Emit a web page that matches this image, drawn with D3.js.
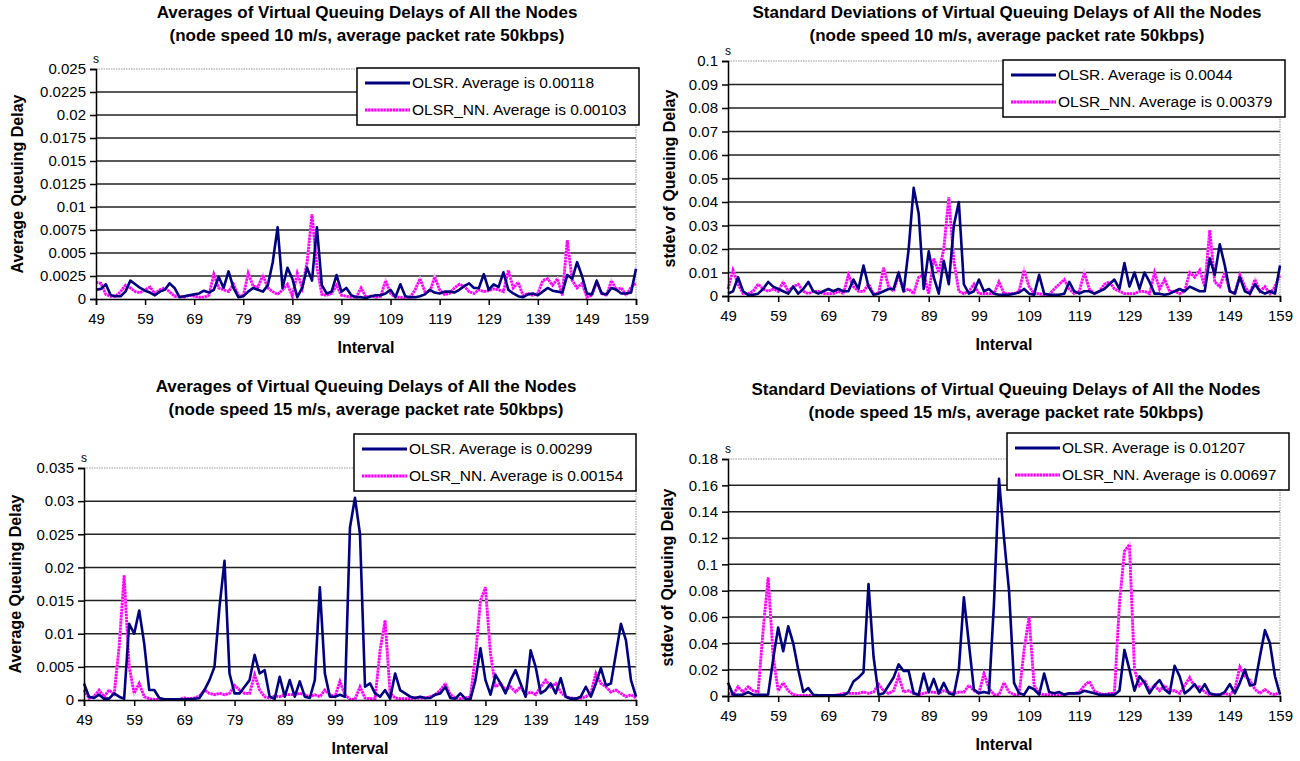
<!DOCTYPE html>
<html>
<head>
<meta charset="utf-8">
<script src="https://cdn.jsdelivr.net/npm/d3@7/dist/d3.min.js"></script>
<style>
  body { margin: 0; background: #fff; }
  svg text { font-family: Arial, "Liberation Sans", sans-serif; fill: #000; }
</style>
</head>
<body>
<svg id="chart" width="1300" height="761"></svg>
<script>
// x categories (intervals) and tick labels
var firstInterval = 49, lastInterval = 159;
var xTickLabels = [49, 59, 69, 79, 89, 99, 109, 119, 129, 139, 149, 159];

// y tick labels of each panel
var avg10Ticks = [0, 0.0025, 0.005, 0.0075, 0.01, 0.0125, 0.015, 0.0175, 0.02, 0.0225, 0.025];
var sd10Ticks = [0, 0.01, 0.02, 0.03, 0.04, 0.05, 0.06, 0.07, 0.08, 0.09, 0.1];
var avg15Ticks = [0, 0.005, 0.01, 0.015, 0.02, 0.025, 0.03, 0.035];
var sd15Ticks = [0, 0.02, 0.04, 0.06, 0.08, 0.1, 0.12, 0.14, 0.16, 0.18];

// legend labels
var avg10Legend = ["OLSR. Average is 0.00118", "OLSR_NN. Average is 0.00103"];
var sd10Legend = ["OLSR. Average is 0.0044", "OLSR_NN. Average is 0.00379"];
var avg15Legend = ["OLSR. Average is 0.00299", "OLSR_NN. Average is 0.00154"];
var sd15Legend = ["OLSR. Average is 0.01207", "OLSR_NN. Average is 0.00697"];

// series, one value per interval 49..159
var avg10Olsr = [
  0.0010, 0.0011, 0.0016, 0.0004, 0.0003, 0.0003, 0.0008, 0.0020, 0.0016, 0.0012,
  0.0009, 0.0007, 0.0004, 0.0008, 0.0010, 0.0017, 0.0012, 0.0002, 0.0003, 0.0004,
  0.0005, 0.0006, 0.0009, 0.0007, 0.0010, 0.0024, 0.0012, 0.0030, 0.0012, 0.0002,
  0.0003, 0.0008, 0.0012, 0.0010, 0.0008, 0.0015, 0.0040, 0.0078, 0.0012, 0.0034,
  0.0022, 0.0002, 0.0012, 0.0034, 0.0020, 0.0078, 0.0015, 0.0006, 0.0008, 0.0026,
  0.0008, 0.0012, 0.0004, 0.0002, 0.0002, 0.0001, 0.0003, 0.0004, 0.0004, 0.0006,
  0.0010, 0.0002, 0.0016, 0.0003, 0.0002, 0.0002, 0.0003, 0.0005, 0.0010, 0.0007,
  0.0006, 0.0008, 0.0008, 0.0007, 0.0010, 0.0014, 0.0017, 0.0012, 0.0012, 0.0027,
  0.0010, 0.0016, 0.0013, 0.0029, 0.0010, 0.0006, 0.0003, 0.0002, 0.0005, 0.0006,
  0.0004, 0.0008, 0.0012, 0.0009, 0.0008, 0.0007, 0.0026, 0.0022, 0.0040, 0.0025,
  0.0006, 0.0005, 0.0020, 0.0006, 0.0005, 0.0012, 0.0010, 0.0006, 0.0006, 0.0007,
  0.0033
];
var avg10OlsrNN = [
  0.0018, 0.0017, 0.0005, 0.0003, 0.0003, 0.0008, 0.0015, 0.0012, 0.0008, 0.0007,
  0.0010, 0.0013, 0.0006, 0.0010, 0.0012, 0.0008, 0.0003, 0.0003, 0.0002, 0.0004,
  0.0003, 0.0002, 0.0002, 0.0004, 0.0027, 0.0012, 0.0010, 0.0008, 0.0016, 0.0004,
  0.0003, 0.0028, 0.0014, 0.0013, 0.0026, 0.0012, 0.0008, 0.0005, 0.0010, 0.0016,
  0.0003, 0.0028, 0.0012, 0.0040, 0.0092, 0.0035, 0.0005, 0.0004, 0.0006, 0.0015,
  0.0004, 0.0003, 0.0002, 0.0002, 0.0012, 0.0002, 0.0003, 0.0002, 0.0003, 0.0020,
  0.0006, 0.0002, 0.0002, 0.0001, 0.0002, 0.0010, 0.0022, 0.0008, 0.0008, 0.0024,
  0.0010, 0.0005, 0.0006, 0.0012, 0.0016, 0.0014, 0.0008, 0.0006, 0.0010, 0.0008,
  0.0009, 0.0011, 0.0010, 0.0008, 0.0031, 0.0012, 0.0018, 0.0004, 0.0006, 0.0004,
  0.0006, 0.0020, 0.0022, 0.0015, 0.0022, 0.0004, 0.0064, 0.0020, 0.0012, 0.0017,
  0.0002, 0.0004, 0.0018, 0.0006, 0.0004, 0.0020, 0.0010, 0.0012, 0.0004, 0.0013,
  0.0017
];
var sd10Olsr = [
  0.001, 0.002, 0.008, 0.002, 0.0005, 0.0005, 0.001, 0.003, 0.006, 0.004,
  0.003, 0.002, 0.001, 0.004, 0.001, 0.003, 0.006, 0.002, 0.001, 0.002,
  0.003, 0.002, 0.003, 0.002, 0.002, 0.007, 0.003, 0.013, 0.004, 0.0005,
  0.001, 0.002, 0.003, 0.003, 0.010, 0.002, 0.020, 0.046, 0.035, 0.003,
  0.019, 0.008, 0.001, 0.015, 0.005, 0.030, 0.040, 0.005, 0.001, 0.002,
  0.007, 0.002, 0.003, 0.001, 0.0005, 0.0005, 0.0005, 0.001, 0.0015, 0.003,
  0.001, 0.0005, 0.009, 0.001, 0.0005, 0.0005, 0.0005, 0.001, 0.006, 0.002,
  0.001, 0.002, 0.002, 0.001, 0.002, 0.003, 0.005, 0.007, 0.003, 0.014,
  0.004, 0.010, 0.003, 0.010, 0.006, 0.001, 0.001, 0.0005, 0.001, 0.002,
  0.003, 0.002, 0.004, 0.003, 0.002, 0.002, 0.016, 0.009, 0.022, 0.013,
  0.002, 0.001, 0.008, 0.002, 0.001, 0.005, 0.002, 0.001, 0.002, 0.001,
  0.013
];
var sd10OlsrNN = [
  0.003, 0.011, 0.005, 0.001, 0.001, 0.002, 0.005, 0.003, 0.002, 0.003,
  0.002, 0.006, 0.002, 0.004, 0.005, 0.002, 0.001, 0.002, 0.002, 0.001,
  0.001, 0.001, 0.002, 0.001, 0.009, 0.004, 0.002, 0.002, 0.005, 0.001,
  0.001, 0.012, 0.004, 0.002, 0.009, 0.002, 0.003, 0.001, 0.008, 0.009,
  0.001, 0.016, 0.010, 0.020, 0.042, 0.015, 0.002, 0.001, 0.002, 0.005,
  0.001, 0.001, 0.001, 0.001, 0.006, 0.001, 0.001, 0.001, 0.002, 0.011,
  0.004, 0.001, 0.001, 0.0005, 0.0005, 0.003, 0.005, 0.007, 0.003, 0.001,
  0.002, 0.010, 0.003, 0.001, 0.002, 0.005, 0.006, 0.003, 0.002, 0.001,
  0.001, 0.001, 0.002, 0.002, 0.001, 0.010, 0.003, 0.007, 0.002, 0.002,
  0.001, 0.002, 0.010, 0.008, 0.011, 0.004, 0.028, 0.006, 0.004, 0.010,
  0.002, 0.001, 0.009, 0.004, 0.001, 0.007, 0.002, 0.004, 0.001, 0.004,
  0.009
];
var avg15Olsr = [
  0.0025, 0.0005, 0.0003, 0.0008, 0.0002, 0.0002, 0.0010, 0.0005, 0.0002, 0.0115,
  0.0100, 0.0135, 0.0085, 0.0015, 0.0015, 0.0003, 0.0001, 0.0001, 0.0001, 0.0001,
  0.0001, 0.0001, 0.0002, 0.0003, 0.0015, 0.0030, 0.0050, 0.0140, 0.0210, 0.0040,
  0.0010, 0.0010, 0.0020, 0.0030, 0.0068, 0.0040, 0.0045, 0.0005, 0.0002, 0.0035,
  0.0005, 0.0030, 0.0005, 0.0028, 0.0005, 0.0003, 0.0030, 0.0170, 0.0040, 0.0005,
  0.0005, 0.0008, 0.0005, 0.0260, 0.0305, 0.0250, 0.0020, 0.0025, 0.0010, 0.0005,
  0.0015, 0.0002, 0.0040, 0.0015, 0.0010, 0.0005, 0.0003, 0.0005, 0.0003, 0.0003,
  0.0008, 0.0010, 0.0020, 0.0003, 0.0002, 0.0010, 0.0002, 0.0001, 0.0030, 0.0078,
  0.0030, 0.0008, 0.0038, 0.0025, 0.0010, 0.0030, 0.0045, 0.0025, 0.0005, 0.0075,
  0.0050, 0.0010, 0.0015, 0.0025, 0.0010, 0.0033, 0.0005, 0.0002, 0.0002, 0.0005,
  0.0020, 0.0005, 0.0025, 0.0048, 0.0022, 0.0025, 0.0070, 0.0115, 0.0090, 0.0030,
  0.0005
];
var avg15OlsrNN = [
  0.0015, 0.0003, 0.0005, 0.0015, 0.0005, 0.0015, 0.0008, 0.0080, 0.0188, 0.0050,
  0.0010, 0.0025, 0.0005, 0.0002, 0.0001, 0.0001, 0.0001, 0.0001, 0.0001, 0.0001,
  0.0003, 0.0002, 0.0003, 0.0006, 0.0015, 0.0010, 0.0008, 0.0010, 0.0008, 0.0010,
  0.0022, 0.0015, 0.0010, 0.0010, 0.0038, 0.0015, 0.0005, 0.0003, 0.0006, 0.0005,
  0.0008, 0.0008, 0.0008, 0.0010, 0.0008, 0.0005, 0.0008, 0.0005, 0.0015, 0.0008,
  0.0005, 0.0028, 0.0008, 0.0001, 0.0001, 0.0020, 0.0003, 0.0002, 0.0002, 0.0075,
  0.0120, 0.0010, 0.0003, 0.0002, 0.0002, 0.0002, 0.0003, 0.0003, 0.0003, 0.0005,
  0.0008, 0.0015, 0.0025, 0.0008, 0.0003, 0.0002, 0.0003, 0.0005, 0.0065, 0.0150,
  0.0170, 0.0070, 0.0020, 0.0025, 0.0015, 0.0020, 0.0012, 0.0020, 0.0008, 0.0012,
  0.0008, 0.0020, 0.0030, 0.0020, 0.0025, 0.0012, 0.0005, 0.0003, 0.0002, 0.0003,
  0.0005, 0.0010, 0.0040, 0.0025, 0.0020, 0.0012, 0.0015, 0.0010, 0.0005, 0.0008,
  0.0003
];
var sd15Olsr = [
  0.010, 0.001, 0.001, 0.001, 0.003, 0.001, 0.001, 0.001, 0.001, 0.028,
  0.052, 0.034, 0.053, 0.040, 0.020, 0.003, 0.006, 0.001, 0.0005, 0.0005,
  0.0005, 0.0005, 0.0005, 0.0005, 0.003, 0.011, 0.014, 0.018, 0.085, 0.030,
  0.001, 0.002, 0.008, 0.014, 0.024, 0.019, 0.019, 0.002, 0.001, 0.017,
  0.003, 0.013, 0.002, 0.010, 0.002, 0.001, 0.020, 0.075, 0.040, 0.005,
  0.002, 0.003, 0.002, 0.070, 0.165, 0.120, 0.080, 0.010, 0.002, 0.001,
  0.007, 0.005, 0.001, 0.017, 0.003, 0.002, 0.003, 0.001, 0.002, 0.002,
  0.002, 0.004, 0.003, 0.002, 0.001, 0.001, 0.001, 0.001, 0.004, 0.035,
  0.020, 0.004, 0.015, 0.010, 0.002, 0.008, 0.012, 0.005, 0.002, 0.023,
  0.015, 0.002, 0.005, 0.009, 0.003, 0.009, 0.002, 0.001, 0.001, 0.003,
  0.009, 0.002, 0.010, 0.020, 0.008, 0.009, 0.030, 0.050, 0.040, 0.015,
  0.001
];
var sd15OlsrNN = [
  0.002, 0.001, 0.007, 0.003, 0.007, 0.004, 0.003, 0.050, 0.090, 0.030,
  0.004, 0.010, 0.004, 0.001, 0.0005, 0.0005, 0.0005, 0.0005, 0.0005, 0.0005,
  0.0005, 0.0005, 0.001, 0.002, 0.002, 0.002, 0.002, 0.003, 0.002, 0.003,
  0.009, 0.004, 0.002, 0.004, 0.015, 0.003, 0.004, 0.002, 0.001, 0.002,
  0.003, 0.003, 0.002, 0.004, 0.003, 0.002, 0.003, 0.003, 0.008, 0.004,
  0.002, 0.017, 0.006, 0.001, 0.001, 0.010, 0.003, 0.001, 0.001, 0.035,
  0.060, 0.008, 0.002, 0.001, 0.001, 0.001, 0.001, 0.001, 0.002, 0.002,
  0.003, 0.008, 0.011, 0.004, 0.002, 0.001, 0.002, 0.002, 0.070, 0.110,
  0.115, 0.020, 0.008, 0.012, 0.004, 0.008, 0.004, 0.008, 0.004, 0.004,
  0.002, 0.008, 0.014, 0.007, 0.007, 0.003, 0.001, 0.001, 0.001, 0.002,
  0.001, 0.005, 0.022, 0.015, 0.012, 0.005, 0.002, 0.005, 0.002, 0.001,
  0.003
];

var intervals = d3.range(firstInterval, lastInterval + 1);

var panels = [
  { title: ["Averages of Virtual Queuing Delays of All the Nodes", "(node speed 10 m/s, average packet rate 50kbps)"],
    yLabel: "Average Queuing Delay", ticks: avg10Ticks, legend: avg10Legend,
    olsr: avg10Olsr, olsrNN: avg10OlsrNN,
    left: 96, right: 636, top: 69, bottom: 299, cx: 367, titleY: 18, yLabelX: 17, legendX: 357, legendY: 68 },
  { title: ["Standard Deviations of Virtual Queuing Delays of All the Nodes", "(node speed 10 m/s, average packet rate 50kbps)"],
    yLabel: "stdev of Queuing Delay", ticks: sd10Ticks, legend: sd10Legend,
    olsr: sd10Olsr, olsrNN: sd10OlsrNN,
    left: 728, right: 1280, top: 61, bottom: 296, cx: 1007, titleY: 18, yLabelX: 669, legendX: 1003, legendY: 60 },
  { title: ["Averages of Virtual Queuing Delays of All the Nodes", "(node speed 15 m/s, average packet rate 50kbps)"],
    yLabel: "Average Queuing Delay", ticks: avg15Ticks, legend: avg15Legend,
    olsr: avg15Olsr, olsrNN: avg15OlsrNN,
    left: 84, right: 636, top: 468, bottom: 700, cx: 366, titleY: 392, yLabelX: 15, legendX: 354, legendY: 434 },
  { title: ["Standard Deviations of Virtual Queuing Delays of All the Nodes", "(node speed 15 m/s, average packet rate 50kbps)"],
    yLabel: "stdev of Queuing Delay", ticks: sd15Ticks, legend: sd15Legend,
    olsr: sd15Olsr, olsrNN: sd15OlsrNN,
    left: 728, right: 1280, top: 459, bottom: 696, cx: 1006, titleY: 395, yLabelX: 667, legendX: 1007, legendY: 433 }
];

var svg = d3.select("#chart");
var BLUE = "#000080", PINK = "#ff00ff", PINK_LIGHT = "#ffb3ff";
var PINK_DASH = "2.2,0.9";

function fmt(d) { return String(+d.toFixed(6)); }

function drawPanel(p) {
  var g = svg.append("g");
  var max = p.ticks[p.ticks.length - 1];
  var x = d3.scaleLinear().domain([firstInterval, lastInterval]).range([p.left, p.right]);
  var y = d3.scaleLinear().domain([0, max]).range([p.bottom, p.top]);

  // title, two lines
  p.title.forEach(function(t, i) {
    g.append("text").attr("x", p.cx).attr("y", p.titleY + i * 23).attr("text-anchor", "middle")
      .style("font-size", "17px").style("font-weight", "bold").text(t);
  });

  // gridlines
  g.selectAll(".grid").data(p.ticks.filter(function(t) { return t > 0 && t < max; }))
    .enter().append("line")
    .attr("x1", p.left).attr("x2", p.right)
    .attr("y1", function(d) { return y(d); }).attr("y2", function(d) { return y(d); })
    .attr("stroke", "#222").attr("stroke-width", 1.5);

  // dotted plot border (top and right)
  g.append("path")
    .attr("d", "M" + p.left + "," + y(max) + "H" + p.right + "V" + p.bottom)
    .attr("fill", "none").attr("stroke", "#999").attr("stroke-width", 1)
    .attr("stroke-dasharray", "1.5,1");

  // series
  var line = d3.line()
    .x(function(d, i) { return x(intervals[i]); })
    .y(function(d) { return y(d); });

  g.append("path").datum(p.olsrNN).attr("d", line)
    .attr("fill", "none").attr("stroke", PINK_LIGHT).attr("stroke-width", 2.8);
  g.append("path").datum(p.olsrNN).attr("d", line)
    .attr("fill", "none").attr("stroke", PINK).attr("stroke-width", 2.8)
    .attr("stroke-dasharray", PINK_DASH);
  g.append("path").datum(p.olsr).attr("d", line)
    .attr("fill", "none").attr("stroke", BLUE).attr("stroke-width", 2.6)
    .attr("stroke-linejoin", "round");

  // axes
  var yAxis = g.append("g").attr("transform", "translate(" + p.left + ",0)")
    .call(d3.axisLeft(y).tickValues(p.ticks).tickFormat(fmt).tickSize(6).tickPadding(4));
  var xAxis = g.append("g").attr("transform", "translate(0," + p.bottom + ")")
    .call(d3.axisBottom(x).tickValues(xTickLabels).tickFormat(d3.format("d")).tickSize(6).tickPadding(8));
  [yAxis, xAxis].forEach(function(a) {
    a.select(".domain").attr("stroke", "#000").attr("stroke-width", 1.5);
    a.selectAll(".tick line").attr("stroke", "#000").attr("stroke-width", 1.5);
    a.selectAll(".tick text").style("font-size", "15px").attr("fill", "#000");
  });

  // unit label
  g.append("text").attr("x", p.left).attr("y", p.top - 6).attr("text-anchor", "middle")
    .style("font-size", "12px").text("s");

  // axis titles
  g.append("text").attr("x", (p.left + p.right) / 2).attr("y", p.bottom + 54)
    .attr("text-anchor", "middle").style("font-size", "16px").style("font-weight", "bold")
    .text("Interval");
  g.append("text")
    .attr("transform", "translate(" + (p.yLabelX + 6) + "," + ((p.top + p.bottom) / 2) + ") rotate(-90)")
    .attr("text-anchor", "middle").style("font-size", "16px").style("font-weight", "bold")
    .text(p.yLabel);

  // legend
  var lg = g.append("g").attr("transform", "translate(" + p.legendX + "," + p.legendY + ")");
  lg.append("rect").attr("width", 282).attr("height", 57)
    .attr("fill", "#fff").attr("stroke", "#000").attr("stroke-width", 1.5);
  var rows = [{ c: BLUE, dash: null }, { c: PINK, dash: PINK_DASH }];
  rows.forEach(function(r, i) {
    var yy = 15 + i * 27;
    if (i === 1) {
      lg.append("line").attr("x1", 8).attr("x2", 53).attr("y1", yy).attr("y2", yy)
        .attr("stroke", PINK_LIGHT).attr("stroke-width", 2.8);
    }
    lg.append("line").attr("x1", 8).attr("x2", 53).attr("y1", yy).attr("y2", yy)
      .attr("stroke", r.c).attr("stroke-width", 2.8).attr("stroke-dasharray", r.dash);
    lg.append("text").attr("x", 55).attr("y", yy + 5).style("font-size", "15.5px").text(p.legend[i]);
  });
}

panels.forEach(drawPanel);
</script>
</body>
</html>
